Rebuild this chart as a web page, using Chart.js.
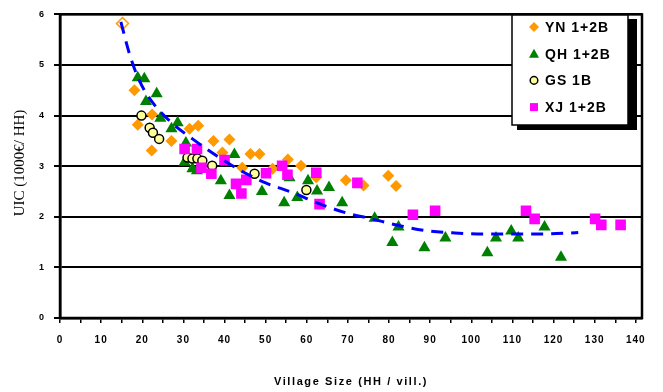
<!DOCTYPE html>
<html>
<head>
<meta charset="utf-8">
<script src="https://cdn.jsdelivr.net/npm/chart.js@4"></script>
<style>
  html, body { margin: 0; padding: 0; background: #fff; }
  #wrap { width: 663px; height: 392px; }
</style>
</head>
<body>
<div id="wrap"><canvas id="graph" width="663" height="392"></canvas></div>
<script>
/* valeurs */
var ynX = [15.2, 18.1, 18.9, 22.4, 22.3, 27.1, 31.5, 33.6, 37.3, 39.5, 41.2, 44.3, 46.3, 48.5, 51.7, 55.4, 58.6, 62.3, 69.5, 73.8, 79.8, 81.7];
var ynY = [5.82, 4.5, 3.82, 4.02, 3.31, 3.5, 3.74, 3.8, 3.5, 3.27, 3.53, 2.97, 3.24, 3.24, 2.95, 3.13, 3.01, 2.78, 2.72, 2.62, 2.81, 2.61];

var qhX = [18.9, 20.5, 20.9, 23.5, 24.4, 27.1, 28.6, 30.6, 30.3, 32.2, 33.3, 39.1, 41.2, 42.4, 49.1, 54.5, 55.8, 57.7, 60.3, 62.5, 65.4, 68.6, 76.5, 80.8, 82.3, 88.6, 93.7, 103.9, 106, 109.7, 111.4, 117.8, 121.8];
var qhY = [4.75, 4.73, 4.28, 4.43, 3.95, 3.74, 3.86, 3.46, 3.08, 2.95, 2.91, 2.71, 2.42, 3.23, 2.5, 2.28, 2.77, 2.38, 2.71, 2.51, 2.58, 2.28, 1.97, 1.49, 1.8, 1.39, 1.58, 1.29, 1.58, 1.72, 1.58, 1.8, 1.2];

var gsX = [19.8, 21.8, 22.6, 24.1, 31.0, 32.2, 33.4, 34.6, 37.0, 47.3, 59.9];
var gsY = [4.0, 3.76, 3.66, 3.54, 3.17, 3.15, 3.15, 3.11, 3.01, 2.85, 2.53];

var xjX = [30.3, 33.3, 34.4, 36.8, 40.0, 42.8, 44.1, 45.3, 50.1, 54.0, 55.3, 62.3, 63.1, 72.3, 85.8, 91.2, 113.3, 115.4, 130.1, 131.6, 136.3];
var xjY = [3.34, 3.34, 2.97, 2.85, 3.12, 2.65, 2.46, 2.73, 2.86, 3.01, 2.83, 2.87, 2.25, 2.67, 2.04, 2.12, 2.12, 1.96, 1.96, 1.84, 1.84];

var trendX = [14.8, 17, 19.3, 22.5, 27.4, 32.2, 38, 44, 50, 56.5, 63, 69.5, 75.7, 82.8, 89.6, 96, 103, 110, 117, 124, 126];
var trendY = [5.85, 5.19, 4.69, 4.26, 3.84, 3.54, 3.21, 2.91, 2.67, 2.48, 2.26, 2.08, 1.96, 1.82, 1.72, 1.68, 1.66, 1.66, 1.66, 1.68, 1.69];

var xTicks = [0, 10, 20, 30, 40, 50, 60, 70, 80, 90, 100, 110, 120, 130, 140];
var yTicks = [0, 1, 2, 3, 4, 5, 6];

var legendLabels = ["YN 1+2B", "QH 1+2B", "GS 1B", "XJ 1+2B"];

function paires(xs, ys) {
    return xs.map(function(x, i) { return { x: x, y: ys[i] }; });
}

var ORANGE = '#FF9900', VERT = '#008000', JAUNE = '#FFFF99', ROSE = '#FF00FF', BLEU = '#0000FF';

/* ---------------------------------------------------------------------- */

function dessinerMarque(ctx, type, x, y, r) {
    ctx.beginPath();
    if (type == 'diamond') {
        ctx.moveTo(x, y - r); ctx.lineTo(x + r, y); ctx.lineTo(x, y + r); ctx.lineTo(x - r, y);
        ctx.closePath();
        ctx.fillStyle = ORANGE; ctx.fill();
    } else if (type == 'triangle') {
        ctx.moveTo(x, y - r); ctx.lineTo(x + r, y + r * 0.8); ctx.lineTo(x - r, y + r * 0.8);
        ctx.closePath();
        ctx.fillStyle = VERT; ctx.fill();
    } else if (type == 'circle') {
        ctx.arc(x, y, r, 0, Math.PI * 2);
        ctx.fillStyle = JAUNE; ctx.fill();
        ctx.lineWidth = 1.5; ctx.strokeStyle = '#000'; ctx.stroke();
    } else {
        ctx.rect(x - r, y - r, 2 * r, 2 * r);
        ctx.fillStyle = ROSE; ctx.fill();
    }
}

var cadreEtLegende = {
    id: 'cadreEtLegende',
    beforeDraw: function(chart) {
        chart.ctx.letterSpacing = '1px';
    },
    afterDraw: function(chart) {
        var ctx = chart.ctx, a = chart.chartArea;
        ctx.save();
        // cadre
        ctx.lineWidth = 2.5;
        ctx.strokeStyle = '#000';
        ctx.strokeRect(a.left, a.top, a.right - a.left, a.bottom - a.top);

        // légende avec ombre
        ctx.fillStyle = '#000';
        ctx.fillRect(517, 19, 120, 111);
        ctx.fillStyle = '#fff';
        ctx.fillRect(512, 15, 116, 110);
        ctx.lineWidth = 1.5;
        ctx.strokeRect(512, 15, 116, 110);

        var types = ['diamond', 'triangle', 'circle', 'square'];
        var tailles = [5, 5, 3.8, 4];
        ctx.font = 'bold 14px "Liberation Sans", Arial, sans-serif';
        ctx.letterSpacing = '1px';
        ctx.textBaseline = 'middle';
        ctx.textAlign = 'left';
        for (var i = 0; i < legendLabels.length; i++) {
            var yy = 27 + i * 26.7;
            dessinerMarque(ctx, types[i], 534, yy, tailles[i]);
            ctx.fillStyle = '#000';
            ctx.fillText(legendLabels[i], 545, yy + 1);
        }

        // titres des axes
        ctx.font = 'bold 11px "Liberation Sans", Arial, sans-serif';
        ctx.letterSpacing = '1.6px';
        ctx.textAlign = 'center';
        ctx.fillText('Village Size (HH / vill.)', (a.left + a.right) / 2, 382);

        ctx.translate(20, 163);
        ctx.rotate(-Math.PI / 2);
        ctx.font = '15px "Liberation Serif", "Times New Roman", serif';
        ctx.letterSpacing = '0px';
        ctx.fillText('UIC (1000€/ HH)', 0, 0);
        ctx.restore();
    }
};

/* ---------------------------------------------------------------------- */

var graph = document.getElementById("graph").getContext("2d");

var ynFond = ynX.map(function(x, i) { return i == 0 ? '#fff' : ORANGE; });

var myChart = new Chart(graph, {
    type: "scatter",
    data: {
        datasets: [{
            label: "trend",
            type: "line",
            data: paires(trendX, trendY),
            borderColor: BLEU,
            borderWidth: 3,
            borderDash: [12, 8],
            pointRadius: 0,
            cubicInterpolationMode: 'monotone',
            fill: false,
            order: 0,
        }, {
            label: legendLabels[3],
            data: paires(xjX, xjY),
            pointStyle: 'rect',
            pointRadius: 7.5,
            backgroundColor: ROSE,
            borderWidth: 0,
            order: 1,
        }, {
            label: legendLabels[2],
            data: paires(gsX, gsY),
            pointStyle: 'circle',
            pointRadius: 4.5,
            backgroundColor: JAUNE,
            borderColor: '#000',
            borderWidth: 1.5,
            order: 2,
        }, {
            label: legendLabels[1],
            data: paires(qhX, qhY),
            pointStyle: 'triangle',
            pointRadius: 7,
            backgroundColor: VERT,
            borderWidth: 0,
            order: 3,
        }, {
            label: legendLabels[0],
            data: paires(ynX, ynY),
            pointStyle: 'rectRot',
            pointRadius: 6,
            backgroundColor: ynFond,
            borderColor: ORANGE,
            borderWidth: ynX.map(function(x, i) { return i == 0 ? 1.5 : 0; }),
            order: 4,
        }],
    },
    options: {
        animation: false,
        responsive: false,
        layout: {
            padding: { top: 14, right: 21, left: 0, bottom: 0 },
        },
        plugins: {
            legend: { display: false },
            tooltip: { enabled: false },
        },
        scales: {
            x: {
                type: 'linear',
                min: 0,
                max: 141.5,
                afterBuildTicks: function(scale) {
                    var t = [];
                    for (var v = 0; v <= 140; v += 5) t.push({ value: v });
                    scale.ticks = t;
                },
                afterFit: function(scale) { scale.height = 74; },
                ticks: {
                    autoSkip: false,
                    maxRotation: 0,
                    padding: 11,
                    color: '#000',
                    font: { family: '"Liberation Sans", Arial, sans-serif', size: 10, weight: 'bold' },
                    callback: function(v) { return xTicks.indexOf(v) >= 0 ? String(v) : ''; },
                },
                grid: {
                    drawOnChartArea: false,
                    drawTicks: true,
                    tickLength: 5,
                    color: '#000',
                    lineWidth: 1.5,
                },
                border: { display: true, color: '#000', width: 2.5 },
            },
            y: {
                min: 0,
                max: 6,
                afterBuildTicks: function(scale) {
                    scale.ticks = yTicks.map(function(v) { return { value: v }; });
                },
                afterFit: function(scale) { scale.width = 60; },
                ticks: {
                    padding: 9,
                    color: '#000',
                    font: { family: '"Liberation Sans", Arial, sans-serif', size: 9, weight: 'bold' },
                },
                grid: {
                    color: '#000',
                    lineWidth: 2,
                    tickLength: 6,
                },
                border: { display: true, color: '#000', width: 2.5 },
            },
        },
    },
    plugins: [cadreEtLegende],
});
</script>
</body>
</html>
